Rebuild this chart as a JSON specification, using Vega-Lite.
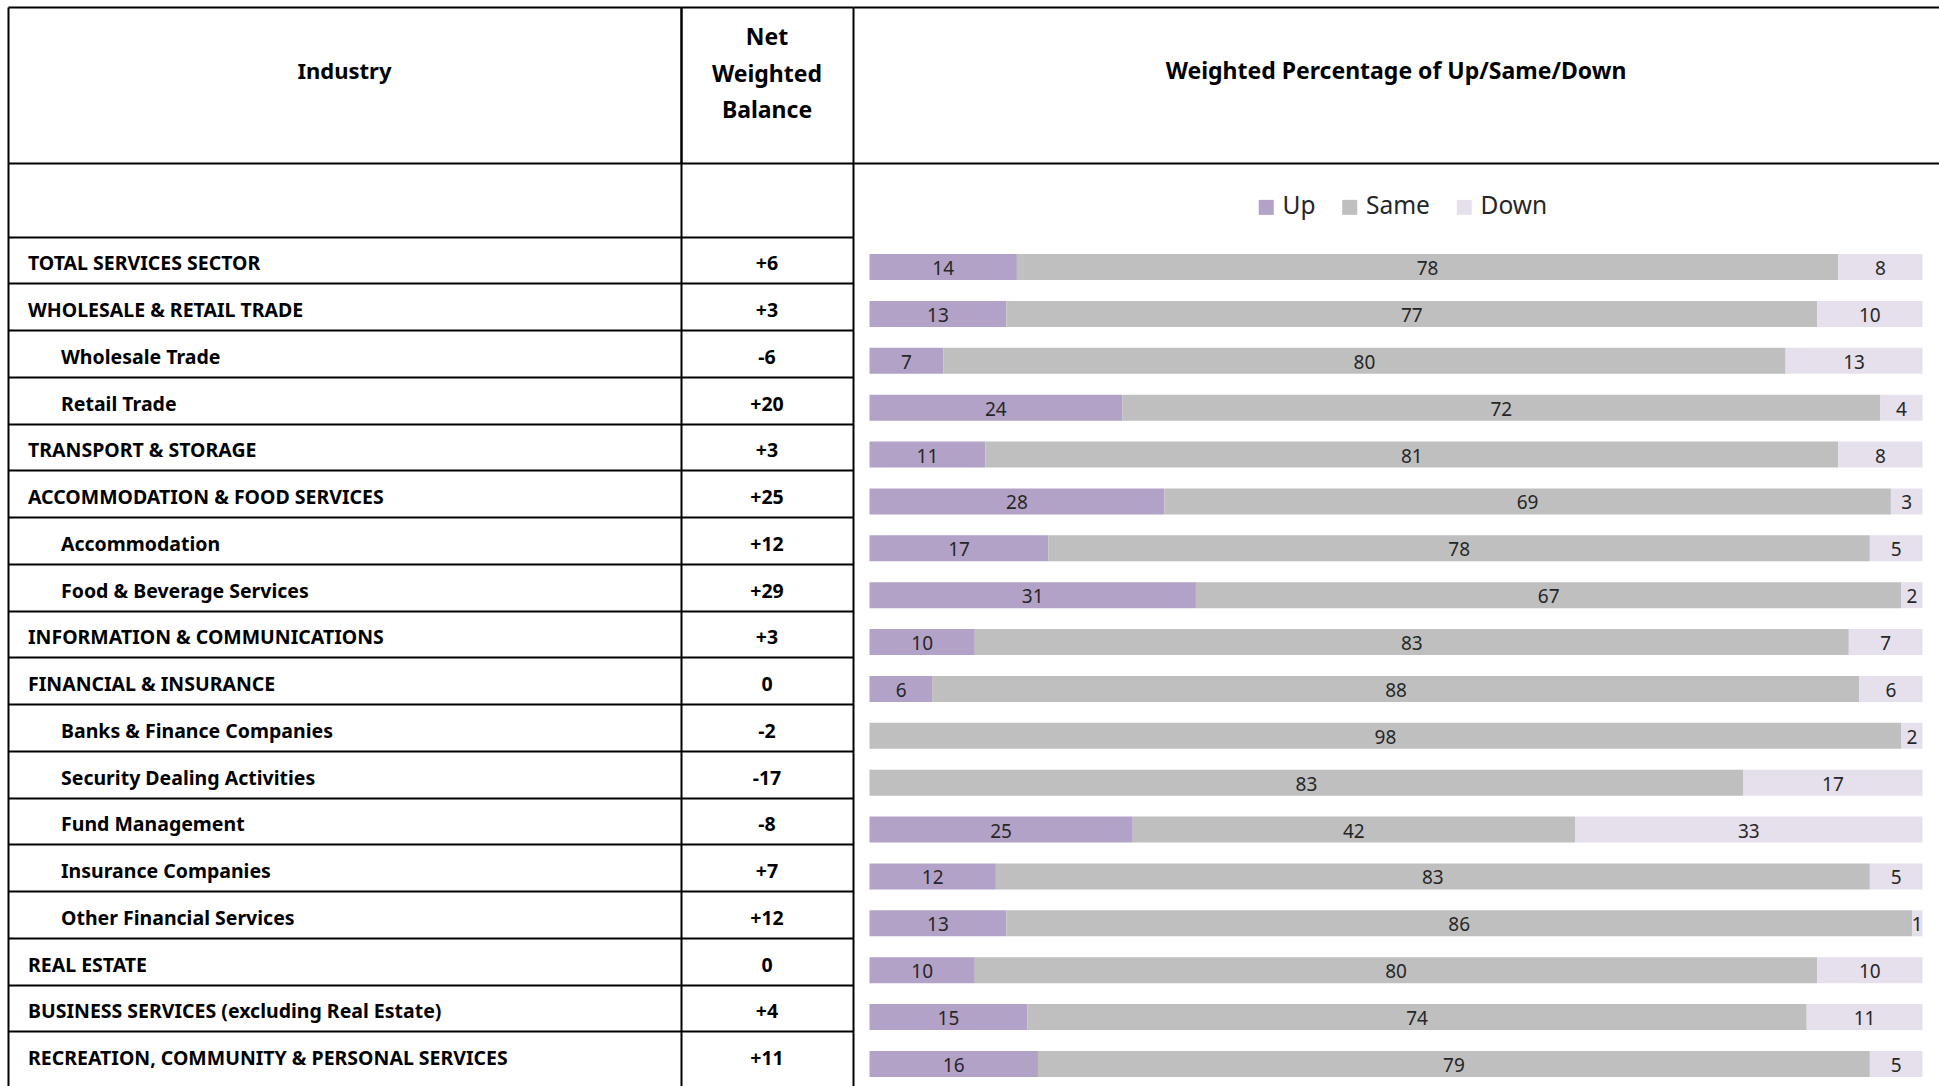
{
  "$schema": "https://vega.github.io/schema/vega-lite/v6.json",
  "padding": {"left": 8, "top": 7, "right": 0, "bottom": 0},
  "background": "white",
  "columns": 3,
  "spacing": 0,
  "bounds": "flush",
  "align": "each",
  "config": {
    "view": {"stroke": null},
    "font": "Noto Sans",
    "text": {"font": "Noto Sans"}
  },
  "datasets": {
    "rows": [
      {"industry": "TOTAL SERVICES SECTOR", "level": 0, "net": "+6"},
      {"industry": "WHOLESALE & RETAIL TRADE", "level": 0, "net": "+3"},
      {"industry": "Wholesale Trade", "level": 1, "net": "-6"},
      {"industry": "Retail Trade", "level": 1, "net": "+20"},
      {"industry": "TRANSPORT & STORAGE", "level": 0, "net": "+3"},
      {"industry": "ACCOMMODATION & FOOD SERVICES", "level": 0, "net": "+25"},
      {"industry": "Accommodation", "level": 1, "net": "+12"},
      {"industry": "Food & Beverage Services", "level": 1, "net": "+29"},
      {"industry": "INFORMATION & COMMUNICATIONS", "level": 0, "net": "+3"},
      {"industry": "FINANCIAL & INSURANCE", "level": 0, "net": "0"},
      {"industry": "Banks & Finance Companies", "level": 1, "net": "-2"},
      {"industry": "Security Dealing Activities", "level": 1, "net": "-17"},
      {"industry": "Fund Management", "level": 1, "net": "-8"},
      {"industry": "Insurance Companies", "level": 1, "net": "+7"},
      {"industry": "Other Financial Services", "level": 1, "net": "+12"},
      {"industry": "REAL ESTATE", "level": 0, "net": "0"},
      {"industry": "BUSINESS SERVICES (excluding Real Estate)", "level": 0, "net": "+4"},
      {"industry": "RECREATION, COMMUNITY & PERSONAL SERVICES", "level": 0, "net": "+11"}
    ],
    "bars": [
      {"industry": "TOTAL SERVICES SECTOR", "category": "Up", "value": 14},
      {"industry": "TOTAL SERVICES SECTOR", "category": "Same", "value": 78},
      {"industry": "TOTAL SERVICES SECTOR", "category": "Down", "value": 8},
      {"industry": "WHOLESALE & RETAIL TRADE", "category": "Up", "value": 13},
      {"industry": "WHOLESALE & RETAIL TRADE", "category": "Same", "value": 77},
      {"industry": "WHOLESALE & RETAIL TRADE", "category": "Down", "value": 10},
      {"industry": "Wholesale Trade", "category": "Up", "value": 7},
      {"industry": "Wholesale Trade", "category": "Same", "value": 80},
      {"industry": "Wholesale Trade", "category": "Down", "value": 13},
      {"industry": "Retail Trade", "category": "Up", "value": 24},
      {"industry": "Retail Trade", "category": "Same", "value": 72},
      {"industry": "Retail Trade", "category": "Down", "value": 4},
      {"industry": "TRANSPORT & STORAGE", "category": "Up", "value": 11},
      {"industry": "TRANSPORT & STORAGE", "category": "Same", "value": 81},
      {"industry": "TRANSPORT & STORAGE", "category": "Down", "value": 8},
      {"industry": "ACCOMMODATION & FOOD SERVICES", "category": "Up", "value": 28},
      {"industry": "ACCOMMODATION & FOOD SERVICES", "category": "Same", "value": 69},
      {"industry": "ACCOMMODATION & FOOD SERVICES", "category": "Down", "value": 3},
      {"industry": "Accommodation", "category": "Up", "value": 17},
      {"industry": "Accommodation", "category": "Same", "value": 78},
      {"industry": "Accommodation", "category": "Down", "value": 5},
      {"industry": "Food & Beverage Services", "category": "Up", "value": 31},
      {"industry": "Food & Beverage Services", "category": "Same", "value": 67},
      {"industry": "Food & Beverage Services", "category": "Down", "value": 2},
      {"industry": "INFORMATION & COMMUNICATIONS", "category": "Up", "value": 10},
      {"industry": "INFORMATION & COMMUNICATIONS", "category": "Same", "value": 83},
      {"industry": "INFORMATION & COMMUNICATIONS", "category": "Down", "value": 7},
      {"industry": "FINANCIAL & INSURANCE", "category": "Up", "value": 6},
      {"industry": "FINANCIAL & INSURANCE", "category": "Same", "value": 88},
      {"industry": "FINANCIAL & INSURANCE", "category": "Down", "value": 6},
      {"industry": "Banks & Finance Companies", "category": "Up", "value": 0},
      {"industry": "Banks & Finance Companies", "category": "Same", "value": 98},
      {"industry": "Banks & Finance Companies", "category": "Down", "value": 2},
      {"industry": "Security Dealing Activities", "category": "Up", "value": 0},
      {"industry": "Security Dealing Activities", "category": "Same", "value": 83},
      {"industry": "Security Dealing Activities", "category": "Down", "value": 17},
      {"industry": "Fund Management", "category": "Up", "value": 25},
      {"industry": "Fund Management", "category": "Same", "value": 42},
      {"industry": "Fund Management", "category": "Down", "value": 33},
      {"industry": "Insurance Companies", "category": "Up", "value": 12},
      {"industry": "Insurance Companies", "category": "Same", "value": 83},
      {"industry": "Insurance Companies", "category": "Down", "value": 5},
      {"industry": "Other Financial Services", "category": "Up", "value": 13},
      {"industry": "Other Financial Services", "category": "Same", "value": 86},
      {"industry": "Other Financial Services", "category": "Down", "value": 1},
      {"industry": "REAL ESTATE", "category": "Up", "value": 10},
      {"industry": "REAL ESTATE", "category": "Same", "value": 80},
      {"industry": "REAL ESTATE", "category": "Down", "value": 10},
      {"industry": "BUSINESS SERVICES (excluding Real Estate)", "category": "Up", "value": 15},
      {"industry": "BUSINESS SERVICES (excluding Real Estate)", "category": "Same", "value": 74},
      {"industry": "BUSINESS SERVICES (excluding Real Estate)", "category": "Down", "value": 11},
      {"industry": "RECREATION, COMMUNITY & PERSONAL SERVICES", "category": "Up", "value": 16},
      {"industry": "RECREATION, COMMUNITY & PERSONAL SERVICES", "category": "Same", "value": 79},
      {"industry": "RECREATION, COMMUNITY & PERSONAL SERVICES", "category": "Down", "value": 5}
    ]
  },
  "concat": [
    {
      "width": 673, "height": 156,
      "data": {"values": [{"h": "Industry"}]},
      "mark": {"type": "text", "fontSize": 22, "fontWeight": "bold", "color": "black", "dy": -13},
      "encoding": {
        "text": {"field": "h"},
        "x": {"datum": 0.5, "type": "quantitative", "scale": {"domain": [0, 1]},
              "axis": {"values": [0, 1], "grid": true, "gridColor": "black", "gridWidth": 2, "gridOpacity": 1, "domain": false, "ticks": false, "labels": false, "title": null}},
        "y": {"datum": 0.5, "type": "quantitative", "scale": {"domain": [0, 1]},
              "axis": {"values": [0, 1], "grid": true, "gridColor": "black", "gridWidth": 2, "gridOpacity": 1, "domain": false, "ticks": false, "labels": false, "title": null}}
      }
    },
    {
      "width": 172, "height": 156,
      "data": {"values": [{"h": ["Net", "Weighted", "Balance"]}]},
      "mark": {"type": "text", "fontSize": 23, "fontWeight": "bold", "color": "black", "dy": -47, "lineHeight": 36.5},
      "encoding": {
        "text": {"field": "h"},
        "x": {"datum": 0.5, "type": "quantitative", "scale": {"domain": [0, 1]},
              "axis": {"values": [0, 1], "grid": true, "gridColor": "black", "gridWidth": 2, "gridOpacity": 1, "domain": false, "ticks": false, "labels": false, "title": null}},
        "y": {"datum": 0.5, "type": "quantitative", "scale": {"domain": [0, 1]},
              "axis": {"values": [0, 1], "grid": true, "gridColor": "black", "gridWidth": 2, "gridOpacity": 1, "domain": false, "ticks": false, "labels": false, "title": null}}
      }
    },
    {
      "width": 1086, "height": 156,
      "data": {"values": [{"h": "Weighted Percentage of Up/Same/Down"}]},
      "mark": {"type": "text", "fontSize": 23, "fontWeight": "bold", "color": "black", "dy": -13},
      "encoding": {
        "text": {"field": "h"},
        "y": {"datum": 0.5, "type": "quantitative", "scale": {"domain": [0, 1]},
              "axis": {"values": [0, 1], "grid": true, "gridColor": "black", "gridWidth": 2, "gridOpacity": 1, "domain": false, "ticks": false, "labels": false, "title": null}}
      }
    },
    {
      "width": 673, "height": 923,
      "data": {"name": "rows"},
      "mark": {"type": "text", "align": "left", "baseline": "middle", "fontSize": 19.5, "fontWeight": "bold", "color": "black", "dy": 4},
      "encoding": {
        "y": {"field": "industry", "type": "nominal", "sort": null,
              "scale": {"type": "band", "paddingInner": 0, "paddingOuter": 0.8717, "align": 0.908},
              "axis": {"domain": true, "domainColor": "black", "domainWidth": 2, "grid": true, "gridColor": "black", "gridWidth": 2, "gridOpacity": 1, "bandPosition": 0, "ticks": false, "labels": false, "title": null}},
        "x": {"field": "level", "type": "quantitative", "scale": {"domain": [-0.6061, 19.7879], "nice": false, "zero": false}, "axis": null},
        "text": {"field": "industry"}
      }
    },
    {
      "width": 172, "height": 923,
      "data": {"name": "rows"},
      "mark": {"type": "text", "align": "center", "baseline": "middle", "fontSize": 19.5, "fontWeight": "bold", "color": "black", "dy": 4},
      "encoding": {
        "y": {"field": "industry", "type": "nominal", "sort": null,
              "scale": {"type": "band", "paddingInner": 0, "paddingOuter": 0.8717, "align": 0.908},
              "axis": {"domain": true, "domainColor": "black", "domainWidth": 2, "grid": true, "gridColor": "black", "gridWidth": 2, "gridOpacity": 1, "bandPosition": 0, "ticks": false, "labels": false, "title": null}},
        "text": {"field": "net", "type": "nominal"}
      }
    },
    {
      "width": 1086, "height": 923,
      "data": {"name": "bars"},
      "transform": [
        {"stack": "value", "groupby": ["industry"], "sort": [{"field": "category", "order": "descending"}], "as": ["x0", "x1"]}
      ],
      "encoding": {
        "y": {"field": "industry", "type": "nominal", "sort": null,
              "scale": {"type": "band", "paddingInner": 0, "paddingOuter": 0.8444, "align": 1},
              "axis": {"domain": true, "domainColor": "black", "domainWidth": 2, "grid": false, "ticks": false, "labels": false, "title": null}}
      },
      "layer": [
        {
          "mark": {"type": "bar", "height": 26, "yOffset": 1.4},
          "encoding": {
            "x": {"field": "x0", "type": "quantitative", "scale": {"domain": [0, 100], "padding": 16.5, "nice": false, "zero": false}, "axis": null},
            "x2": {"field": "x1"},
            "color": {"field": "category", "type": "nominal",
                      "scale": {"domain": ["Up", "Same", "Down"], "range": ["#b3a2c7", "#bfbfbf", "#e6e0ec"]},
                      "legend": {"orient": "none", "legendX": 1246, "legendY": 188, "direction": "horizontal", "title": null,
                                 "symbolType": "square", "symbolSize": 225, "symbolStrokeWidth": 0,
                                 "labelFontSize": 24.5, "labelFont": "Noto Sans", "labelColor": "#262626",
                                 "columnPadding": 21.5, "labelOffset": 4, "padding": 0}}
          }
        },
        {
          "transform": [
            {"filter": "datum.value > 0"},
            {"calculate": "(datum.x0 + datum.x1) / 2", "as": "labelPos"}
          ],
          "mark": {"type": "text", "yOffset": 3.4, "fontSize": 19, "color": "#262626", "baseline": "middle", "align": "center"},
          "encoding": {
            "x": {"field": "labelPos", "type": "quantitative"},
            "text": {"field": "value", "type": "quantitative"}
          }
        }
      ]
    }
  ]
}
